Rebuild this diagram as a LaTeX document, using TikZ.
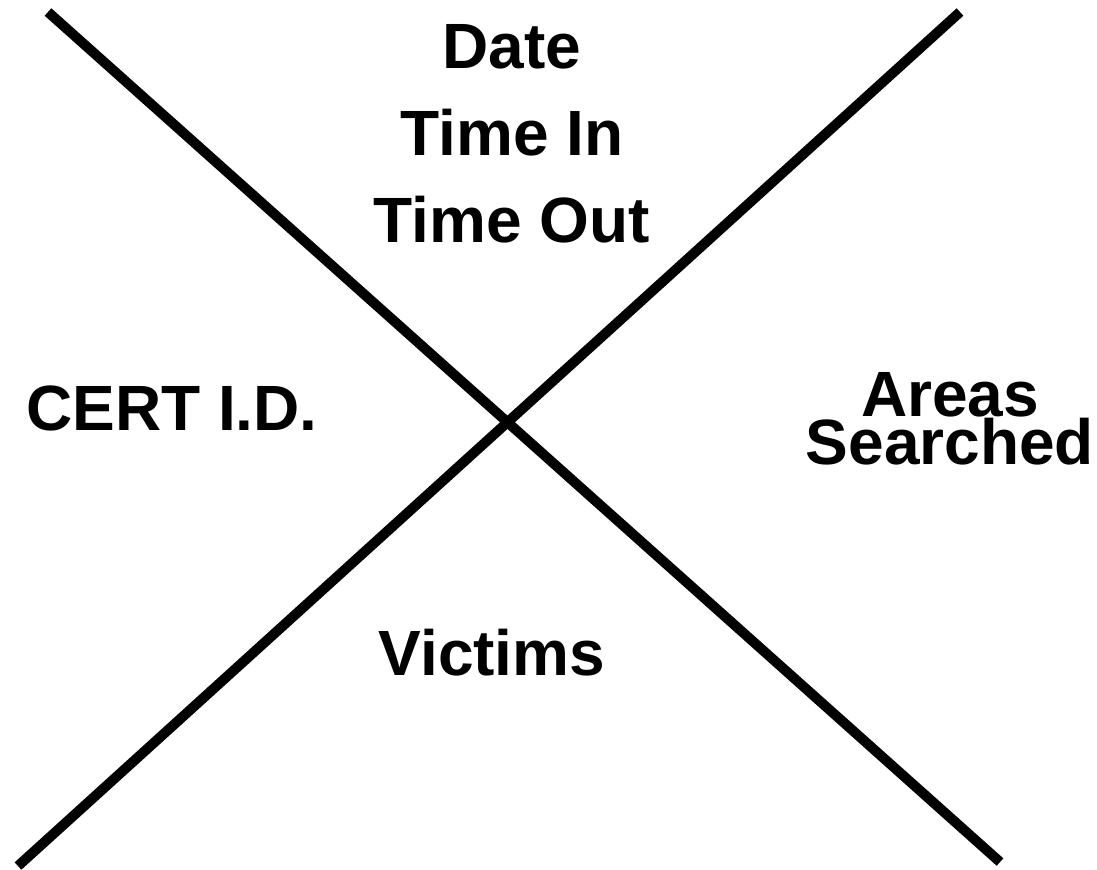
\documentclass[tikz,border=0pt]{standalone}
\usepackage{fontspec}
\setmainfont{Liberation Sans}
\usepackage{tikz}
\usetikzlibrary{positioning}
\tikzset{
  field/.style={align=center,inner sep=0pt,font=\fontsize{32}{43.5}\selectfont\bfseries},
  tight/.style={field,font=\fontsize{32}{24}\selectfont\bfseries},
  bar/.style={line width=5pt}
}
\begin{document}
\begin{tikzpicture}[x=0.5pt,y=-0.5pt]
\useasboundingbox (0,0) rectangle (1097,869);
% the cross
\coordinate (nw) at (48,12);
\coordinate (se) at (1000,862);
\coordinate (ne) at (960,12);
\coordinate (sw) at (18,866);
\draw[bar] (nw) -- (se);
\draw[bar] (ne) -- (sw);
% the four fields
\node[field] (top) at (512,134) {Date\\Time In\\Time Out};
\node[field] (left) at (172,408) {CERT I.D.};
\node[tight] (right) at (950,419) {Areas\\Searched};
\node[field] (bottom) at (492,653) {Victims};
\end{tikzpicture}
\end{document}
